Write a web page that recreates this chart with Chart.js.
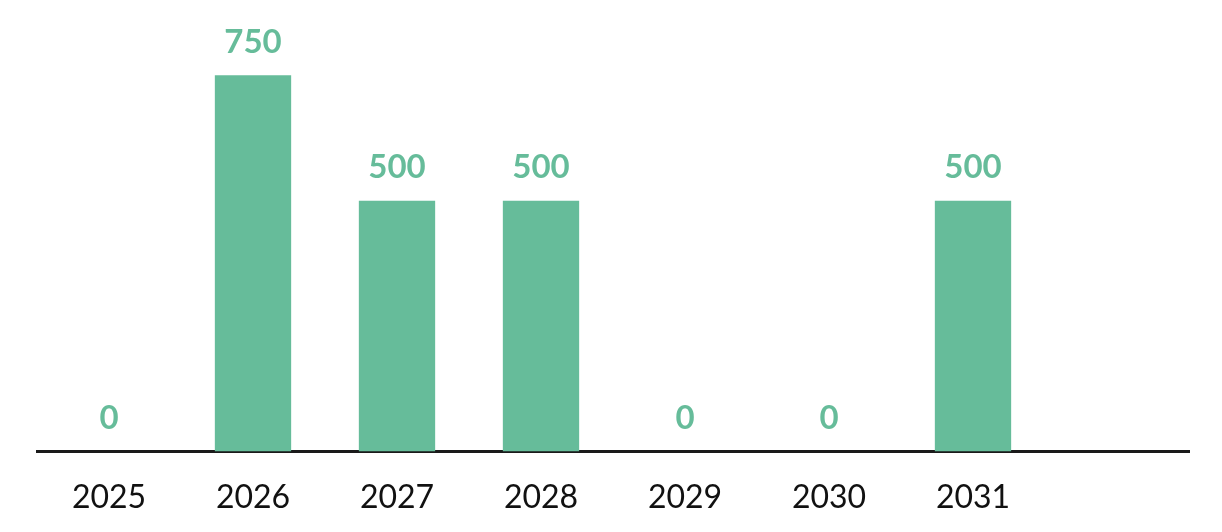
<!DOCTYPE html>
<html>
<head>
<meta charset="utf-8">
<script src="https://cdn.jsdelivr.net/npm/chart.js@4/dist/chart.umd.min.js"></script>
<style>
  html, body { margin: 0; padding: 0; background: #fff; }
  #wrap { width: 1222px; height: 532px; }
</style>
</head>
<body>
<div id="wrap"><canvas id="chart" width="1222" height="532"></canvas></div>
<script>
// Daten
const years = ['2025', '2026', '2027', '2028', '2029', '2030', '2031', ''];
const values = [0, 750, 500, 500, 0, 0, 500, null];

const green = '#66bc9a';

// Werte über den Balken
const valueLabels = {
  id: 'valueLabels',
  afterDatasetsDraw(chart) {
    const ctx = chart.ctx;
    const meta = chart.getDatasetMeta(0);
    ctx.save();
    ctx.font = 'bold 33px Lato';
    ctx.fillStyle = green;
    ctx.textAlign = 'center';
    ctx.textBaseline = 'middle';
    meta.data.forEach((bar, i) => {
      if (values[i] === null) return;
      ctx.fillText(String(values[i]), bar.x, bar.y - 33);
    });
    ctx.restore();
  }
};

new Chart(document.getElementById('chart'), {
  type: 'bar',
  data: {
    labels: years,
    datasets: [{
      data: values,
      backgroundColor: green,
      borderWidth: 0,
      categoryPercentage: 1,
      barPercentage: 0.53
    }]
  },
  options: {
    responsive: false,
    animation: false,
    layout: { padding: { left: 37, right: 33, top: 0, bottom: -12 } },
    plugins: {
      legend: { display: false },
      tooltip: { enabled: false }
    },
    scales: {
      x: {
        grid: { display: false, drawTicks: false },
        border: { display: true, color: '#1a1a1a', width: 3 },
        ticks: { color: '#111', font: { family: 'Lato', size: 32 }, padding: 27 }
      },
      y: {
        display: false,
        min: 0,
        max: 900
      }
    }
  },
  plugins: [valueLabels]
});
</script>
</body>
</html>
